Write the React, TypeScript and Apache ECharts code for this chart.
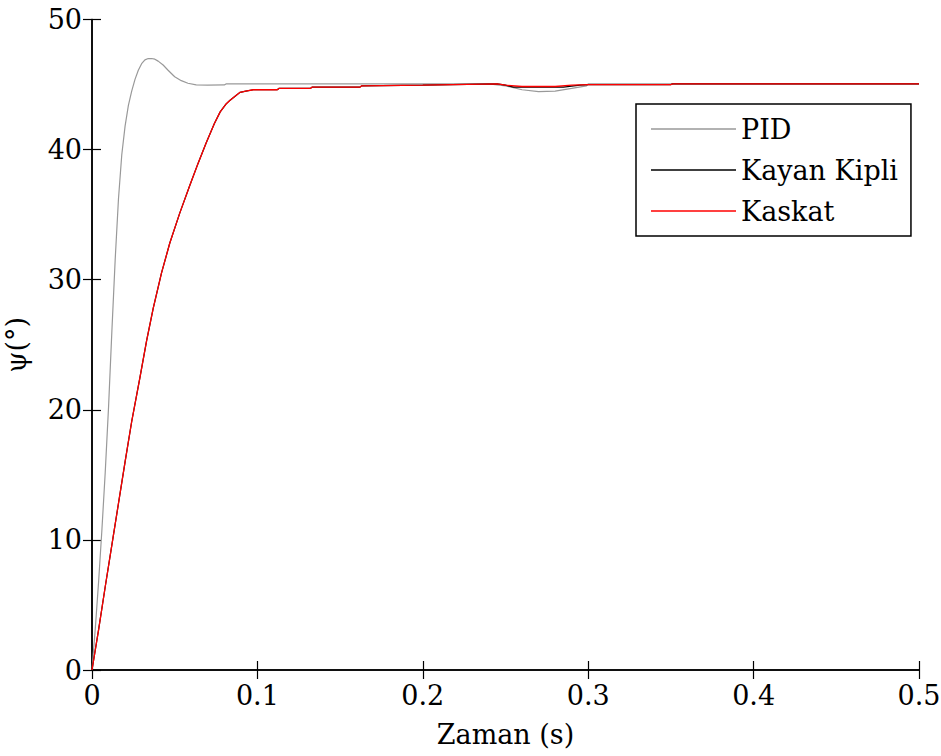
import React, { useEffect, useRef } from "react";
import * as echarts from "echarts";

const xTicks = [0, 0.1, 0.2, 0.3, 0.4, 0.5];
const yTicks = [0, 10, 20, 30, 40, 50];

const pidT = [0, 0.002, 0.004, 0.006, 0.008, 0.01, 0.012, 0.014, 0.016, 0.018, 0.02, 0.022, 0.024, 0.026, 0.028, 0.03, 0.032, 0.034, 0.036, 0.038, 0.04, 0.043, 0.046, 0.05, 0.054, 0.058, 0.063, 0.07, 0.08, 0.081, 0.24, 0.25, 0.26, 0.27, 0.28, 0.29, 0.299, 0.3, 0.5];
const pidV = [0, 3.2, 6.8, 10.8, 15.2, 20.2, 26.0, 31.5, 36.2, 39.6, 41.8, 43.4, 44.5, 45.4, 46.1, 46.6, 46.9, 47.0, 47.0, 46.95, 46.8, 46.5, 46.1, 45.6, 45.3, 45.1, 44.97, 44.95, 44.97, 45.05, 45.05, 44.9, 44.6, 44.45, 44.5, 44.7, 44.9, 45.05, 45.05];

const kayanT = [0, 0.004, 0.008, 0.0125, 0.016, 0.02, 0.024, 0.029, 0.033, 0.037, 0.042, 0.047, 0.053, 0.059, 0.064, 0.069, 0.074, 0.0775, 0.081, 0.0835, 0.0865, 0.0895, 0.093, 0.0975, 0.112, 0.113, 0.132, 0.133, 0.162, 0.163, 0.2, 0.218, 0.245, 0.25, 0.255, 0.285, 0.295, 0.3, 0.35, 0.351, 0.5];
const kayanV = [0, 3.1, 6.4, 10, 12.8, 16.0, 19.1, 22.5, 25.3, 27.8, 30.5, 32.8, 35.1, 37.2, 38.9, 40.5, 42.0, 42.9, 43.5, 43.8, 44.1, 44.4, 44.5, 44.6, 44.6, 44.7, 44.7, 44.8, 44.8, 44.9, 44.95, 45.0, 45.05, 44.95, 44.8, 44.8, 44.95, 45.0, 45.0, 45.05, 45.05];

const kaskatT = [0, 0.004, 0.008, 0.0125, 0.016, 0.02, 0.024, 0.029, 0.033, 0.037, 0.042, 0.047, 0.053, 0.059, 0.064, 0.069, 0.074, 0.0775, 0.081, 0.0835, 0.0865, 0.0895, 0.093, 0.0975, 0.112, 0.113, 0.132, 0.133, 0.162, 0.163, 0.2, 0.218, 0.245, 0.25, 0.26, 0.28, 0.29, 0.3, 0.35, 0.351, 0.5];
const kaskatV = [0, 3.1, 6.4, 10, 12.8, 16.0, 19.1, 22.5, 25.3, 27.8, 30.5, 32.8, 35.1, 37.2, 38.9, 40.5, 42.0, 42.9, 43.5, 43.8, 44.1, 44.4, 44.5, 44.6, 44.6, 44.7, 44.7, 44.8, 44.8, 44.9, 44.95, 45.0, 45.05, 44.95, 44.85, 44.85, 44.95, 45.0, 45.0, 45.05, 45.05];

const seriesNames = ["PID", "Kayan Kipli", "Kaskat"];

const zip = (t: number[], v: number[]) => t.map((x, i) => [x, v[i]]);

const FONT = "DejaVu Serif";
const FS = 27;

export default function App() {
  const ref = useRef<HTMLDivElement>(null);
  useEffect(() => {
    if (!ref.current) return;
    const chart = echarts.init(ref.current, undefined, { renderer: "svg" });
    const tickStyle = { show: true, inside: true, length: 9, lineStyle: { color: "#000", width: 1.2 } };
    const lineAx = { show: true, lineStyle: { color: "#000", width: 1.5 } };
    chart.setOption({
      animation: false,
      backgroundColor: "#fff",
      textStyle: { fontFamily: FONT },
      grid: { left: 92, top: 19.5, right: 22, bottom: 86, show: false, outerBoundsMode: "none", containLabel: false },
      legend: {
        orient: "vertical",
        left: 636,
        top: 104,
        data: seriesNames,
        icon: "rect",
        backgroundColor: "#fff",
        borderColor: "#000",
        borderWidth: 1.5,
        borderRadius: 0,
        padding: [10, 13, 10, 15],
        itemWidth: 85,
        itemHeight: 1.5,
        itemGap: 11,
        textStyle: { fontFamily: FONT, fontSize: FS, color: "#000", lineHeight: 30 },
      },
      xAxis: [
        {
          type: "value",
          min: 0,
          max: 0.5,
          interval: 0.1,
          position: "bottom",
          name: "Zaman (s)",
          nameLocation: "middle",
          nameGap: 51,
          nameTextStyle: { fontFamily: FONT, fontSize: FS, color: "#000" },
          axisLine: lineAx,
          axisTick: tickStyle,
          splitLine: { show: false },
          axisLabel: {
            fontFamily: FONT,
            fontSize: FS,
            color: "#000",
            margin: 12,
            formatter: (v: number) => (xTicks.some((t) => Math.abs(t - v) < 1e-9) ? String(Number(v.toFixed(1))) : ""),
          },
        },
        {
          type: "value",
          min: 0,
          max: 0.5,
          interval: 0.1,
          position: "top",
          axisLine: lineAx,
          axisTick: tickStyle,
          axisLabel: { show: false },
          splitLine: { show: false },
        },
      ],
      yAxis: [
        {
          type: "value",
          min: 0,
          max: 50,
          interval: 10,
          position: "left",
          name: "ψ(°)",
          nameLocation: "middle",
          nameGap: 62,
          nameRotate: 90,
          nameTextStyle: { fontFamily: FONT, fontSize: FS, color: "#000" },
          axisLine: lineAx,
          axisTick: tickStyle,
          splitLine: { show: false },
          axisLabel: {
            fontFamily: FONT,
            fontSize: FS,
            color: "#000",
            margin: 10,
            formatter: (v: number) => (yTicks.includes(v) ? String(v) : ""),
          },
        },
        {
          type: "value",
          min: 0,
          max: 50,
          interval: 10,
          position: "right",
          axisLine: lineAx,
          axisTick: tickStyle,
          axisLabel: { show: false },
          splitLine: { show: false },
        },
      ],
      series: [
        {
          name: "PID",
          type: "line",
          data: zip(pidT, pidV),
          symbol: "none",
          lineStyle: { color: "#999999", width: 1.2 },
          itemStyle: { color: "#999999" },
          z: 2,
        },
        {
          name: "Kayan Kipli",
          type: "line",
          data: zip(kayanT, kayanV),
          symbol: "none",
          lineStyle: { color: "#000000", width: 1.2 },
          itemStyle: { color: "#000000" },
          z: 3,
        },
        {
          name: "Kaskat",
          type: "line",
          data: zip(kaskatT, kaskatV),
          symbol: "none",
          lineStyle: { color: "#ff0000", width: 1.3 },
          itemStyle: { color: "#ff0000" },
          z: 4,
        },
      ],
    });
    return () => chart.dispose();
  }, []);
  return (
    <div
      ref={ref}
      style={{ position: "absolute", left: 0, top: 0, width: 941, height: 756, background: "#fff" }}
    />
  );
}
